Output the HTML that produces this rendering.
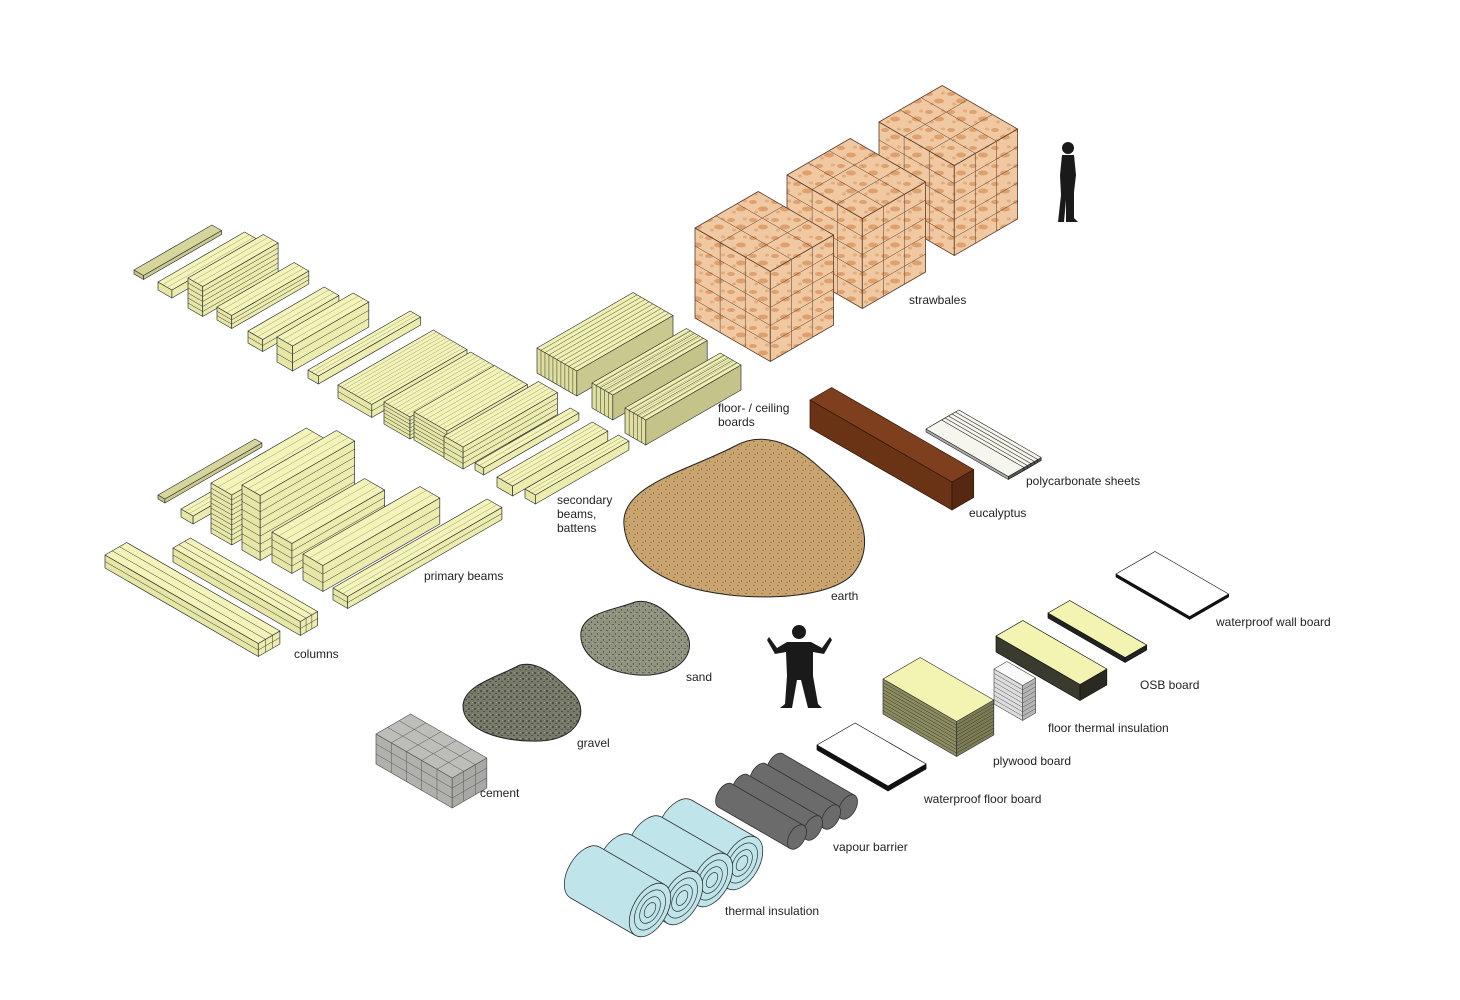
<!DOCTYPE html>
<html><head><meta charset="utf-8"><style>
html,body{margin:0;padding:0;background:#fff;width:1460px;height:1000px;overflow:hidden}
svg{position:absolute;left:0;top:0}
.l{font-family:"Liberation Sans",sans-serif;font-size:12px;fill:#222}
</style></head><body>
<svg id="s" width="1460" height="1000" viewBox="0 0 1460 1000" xmlns="http://www.w3.org/2000/svg">
<defs>
<pattern id="straw" width="22" height="18" patternUnits="userSpaceOnUse">
<rect width="22" height="18" fill="#f0c9a2"/>
<ellipse cx="5" cy="4" rx="4" ry="2" fill="#dea16e"/>
<ellipse cx="15" cy="11" rx="5" ry="2.5" fill="#dea16e"/>
<ellipse cx="8" cy="14" rx="2" ry="1.5" fill="#e3ad7e"/>
<ellipse cx="19" cy="3" rx="2" ry="1.5" fill="#e3ad7e"/>
</pattern>
<pattern id="earth" width="8" height="8" patternUnits="userSpaceOnUse">
<rect width="8" height="8" fill="#c9a46e"/>
<rect x="1" y="1" width="2" height="1" fill="#9c7a4c"/><rect x="5" y="4" width="1" height="2" fill="#9c7a4c"/><rect x="2" y="6" width="2" height="1" fill="#a88658"/>
</pattern>
<pattern id="sand" width="6" height="6" patternUnits="userSpaceOnUse">
<rect width="6" height="6" fill="#8f9380"/>
<rect x="0" y="0" width="2" height="1" fill="#5e6252"/><rect x="3" y="3" width="1" height="2" fill="#5e6252"/><rect x="4" y="1" width="1" height="1" fill="#a8ab98"/>
</pattern>
<pattern id="gravel" width="6" height="6" patternUnits="userSpaceOnUse">
<rect width="6" height="6" fill="#777a68"/>
<rect x="0" y="0" width="2" height="2" fill="#4f5345"/><rect x="3" y="3" width="2" height="1" fill="#4f5345"/><rect x="4" y="0" width="1" height="1" fill="#9a9c8a"/>
</pattern>
</defs>
<g id="g"></g>
<text class="l" x="909" y="304">strawbales</text>
<text class="l" x="718" y="412">floor- / ceiling</text>
<text class="l" x="718" y="426">boards</text>
<text class="l" x="1026" y="485">polycarbonate sheets</text>
<text class="l" x="969" y="517">eucalyptus</text>
<text class="l" x="557" y="504">secondary</text>
<text class="l" x="557" y="518">beams,</text>
<text class="l" x="557" y="532">battens</text>
<text class="l" x="424" y="580">primary beams</text>
<text class="l" x="831" y="600">earth</text>
<text class="l" x="294" y="658">columns</text>
<text class="l" x="1216" y="626">waterproof wall board</text>
<text class="l" x="1140" y="689">OSB board</text>
<text class="l" x="1048" y="732">floor thermal insulation</text>
<text class="l" x="686" y="681">sand</text>
<text class="l" x="993" y="765">plywood board</text>
<text class="l" x="577" y="747">gravel</text>
<text class="l" x="924" y="803">waterproof floor board</text>
<text class="l" x="480" y="797">cement</text>
<text class="l" x="833" y="851">vapour barrier</text>
<text class="l" x="725" y="915">thermal insulation</text>
</svg>
<script>
var g=document.getElementById('g'),NS='http://www.w3.org/2000/svg';
function el(t,at){var e=document.createElementNS(NS,t);for(var k in at)e.setAttribute(k,at[k]);g.appendChild(e);return e;}
function P(x,y,a,b,c,i,j,k){return [x+0.866*(i*a+j*b),y-0.5*i*a+0.5*j*b-k*c];}
function poly(pts,f,s,sw){el('polygon',{points:pts.map(function(p){return p[0].toFixed(1)+','+p[1].toFixed(1)}).join(' '),fill:f,stroke:s||'#333','stroke-width':sw||0.7,'stroke-linejoin':'round'});}
function line(p,q,s,sw){el('line',{x1:p[0],y1:p[1],x2:q[0],y2:q[1],stroke:s||'#333','stroke-width':sw||0.5});}
function box(x,y,a,b,c,o){o=o||{};var Q=function(i,j,k){return P(x,y,a,b,c,i,j,k)};
 poly([Q(0,0,0),Q(0,1,0),Q(0,1,1),Q(0,0,1)],o.l||'#e8e8a8',o.s,o.sw);
 poly([Q(0,1,0),Q(1,1,0),Q(1,1,1),Q(0,1,1)],o.r||'#eaeaab',o.s,o.sw);
 poly([Q(0,0,1),Q(1,0,1),Q(1,1,1),Q(0,1,1)],o.t||'#f3f3ba',o.s,o.sw);
 var n=o.n||1;
 for(var m=1;m<n;m++){var k=m/n;line(Q(0,0,k),Q(0,1,k),o.s,0.5);line(Q(0,1,k),Q(1,1,k),o.s,0.5);}
 if(o.gu){for(var m=1;m<o.gu;m++){var i=m/o.gu;line(Q(i,1,0),Q(i,1,1),o.s,0.5);line(Q(i,0,1),Q(i,1,1),o.s,0.5);}}
 if(o.gv){for(var m=1;m<o.gv;m++){var j=m/o.gv;line(Q(0,j,0),Q(0,j,1),o.s,0.5);line(Q(0,j,1),Q(1,j,1),o.s,0.5);}}
 if(o.lt){for(var m=1;m<o.lt;m++){var j=m/o.lt;line(Q(0,j,1),Q(1,j,1),'#8a8a5a',0.4);}}
}
var Y={t:'#f3f3ba',l:'#e6e6a6',r:'#ececae'}, OL={t:'#d6d69c',l:'#c4c488',r:'#cbcb8f'};
function yb(x,y,a,b,c,n,lt){box(x,y,a,b,c,{t:Y.t,l:Y.l,r:Y.r,n:n,lt:lt});}
box(134,274,90,11,4,OL);
yb(158,290,100,16,8,1,3);
yb(188,308,87,17,30,6,3);
yb(217,320,89,17,13,3,3);
yb(248,343,88,17,12,2,3);
yb(277,362,88,18,25,3,3);
yb(308,378,118,12,8,1,3);
yb(338,398,110,39,13,2,10);
yb(384,424,100,30,22,6,7);
yb(414,440,93,38,28,7,8);
yb(444,458,109,22,22,4,5);
yb(475,470,110,10,7,1,2);
yb(497,487,110,18,10,1,4);
yb(525,498,108,12,9,1,3);
box(537,373,111,46,25,{t:'#f0f0b4',l:'#dede9e',r:'#c9c98f',n:1,lt:10,gv:10});
box(592,408,109,24,25,{t:'#f0f0b4',l:'#dede9e',r:'#c4c48a',n:1,lt:6,gv:5});
box(625,433,110,24,25,{t:'#f0f0b4',l:'#dede9e',r:'#c4c48a',n:1,lt:6,gv:5});
box(158,499,112,8,4,OL);
yb(181,517,100,14,8,1,3);
yb(211,533,110,24,50,10,3);
yb(242,550,109,21,65,8,3);
yb(272,562,107,23,30,4,3);
yb(303,580,135,23,26,3,3);
yb(333,600,178,17,12,2,3);
box(105,568,25,177,13,{t:Y.t,l:Y.l,r:Y.r,n:2,gu:3});
box(173,562,20,147,14,{t:Y.t,l:Y.l,r:Y.r,n:2,gu:3});
[[879,212],[787,265],[695,318]].forEach(function(p){box(p[0],p[1],73,87,90,{t:'url(#straw)',l:'url(#straw)',r:'url(#straw)',s:'#5a3a2a',sw:0.8,n:5,gu:3,gv:3});});
box(810,428,25,164,28,{t:'#7d3f1d',l:'#6a3316',r:'#552812',s:'#2a1508'});
for(var i=5;i>=0;i--){box(926+i*0.866*4,432-i*2,18,95,3,{t:'#f6f6ee',l:'#aaa',r:'#555',s:'#222',sw:0.6});}
el('path',{d:'M624,525 C620,485 690,470 735,446 C760,432 790,440 820,468 C862,502 878,545 852,575 C825,602 735,602 685,586 C645,572 626,552 624,525 Z',fill:'url(#earth)',stroke:'#222','stroke-width':1});
el('path',{d:'M581,632 C584,612 615,610 635,602 C655,598 670,615 684,630 C698,648 685,672 650,675 C615,677 578,660 581,632 Z',fill:'url(#sand)',stroke:'#222','stroke-width':1});
el('path',{d:'M463,705 C465,685 495,678 520,665 C540,660 560,680 575,695 C590,715 575,740 540,741 C500,742 462,730 463,705 Z',fill:'url(#gravel)',stroke:'#222','stroke-width':1});
box(376,764,40,88,30,{t:'#bdbdb9',l:'#b0b0ac',r:'#a8a8a4',s:'#555',n:3,gu:3,gv:5});
box(1116,577,45,85,3,{t:'#fff',l:'#111',r:'#111',s:'#111'});
box(1048,618,25,89,5,{t:'#f3f3b2',l:'#222',r:'#222',s:'#111'});
box(996,652,31,97,16,{t:'#f3f3b2',l:'#3a3a2e',r:'#2a2a22',s:'#111'});
box(994,704,15,33,35,{t:'#fafafa',l:'#ddd',r:'#b5b5b5',s:'#555',n:8});
box(883,714,43,85,35,{t:'#f3f3b2',l:'#8d8d60',r:'#7e7e55',s:'#333',n:10});
box(817,750,44,82,5,{t:'#fff',l:'#111',r:'#111',s:'#111'});
function roll(cx,cy,r,L,fill,spiral){var dx=-0.866*L,dy=-0.5*L,nx=0.5*1.22*r,ny=-0.866*1.22*r;
 el('ellipse',{cx:cx+dx,cy:cy+dy,rx:0.707*r,ry:1.22*r,transform:'rotate(30 '+(cx+dx)+' '+(cy+dy)+')',fill:fill,stroke:'#333','stroke-width':0.8});
 poly([[cx+nx,cy+ny],[cx+nx+dx,cy+ny+dy],[cx-nx+dx,cy-ny+dy],[cx-nx,cy-ny]],fill,'none');
 line([cx+nx,cy+ny],[cx+nx+dx,cy+ny+dy],'#333',0.8);line([cx-nx,cy-ny],[cx-nx+dx,cy-ny+dy],'#333',0.8);
 el('ellipse',{cx:cx,cy:cy,rx:0.707*r,ry:1.22*r,transform:'rotate(30 '+cx+' '+cy+')',fill:fill,stroke:'#333','stroke-width':0.8});
 if(spiral){[0.75,0.5,0.28].forEach(function(f){el('ellipse',{cx:cx,cy:cy,rx:0.707*r*f,ry:1.22*r*f,transform:'rotate(30 '+cx+' '+cy+')',fill:'none',stroke:'#333','stroke-width':0.7});});}
}
[[848,807],[831,817],[813,828],[797,837]].forEach(function(p){roll(p[0],p[1],11,83,'#6b6b6b',false);});
[[742,863],[712,880],[682,898],[650,910]].forEach(function(p){roll(p[0],p[1],24,75,'#bfe5ea',true);});
el('circle',{cx:1068,cy:148,r:6,fill:'#1a1a1a'});
el('path',{d:'M1062,155 L1074,155 L1076,175 L1074,192 L1074,218 L1078,222 L1066,222 L1066,200 L1064,222 L1058,222 L1061,195 L1060,175 Z',fill:'#1a1a1a'});
el('circle',{cx:799,cy:632,r:7,fill:'#1a1a1a'});
el('path',{d:'M787,642 L811,642 L822,648 L830,637 L832,640 L824,654 L813,652 L813,676 L818,704 L822,708 L808,708 L801,680 L797,680 L792,708 L780,708 L785,704 L787,676 L786,652 L775,654 L767,640 L769,637 L777,648 Z',fill:'#1a1a1a'});
</script>
</body></html>
